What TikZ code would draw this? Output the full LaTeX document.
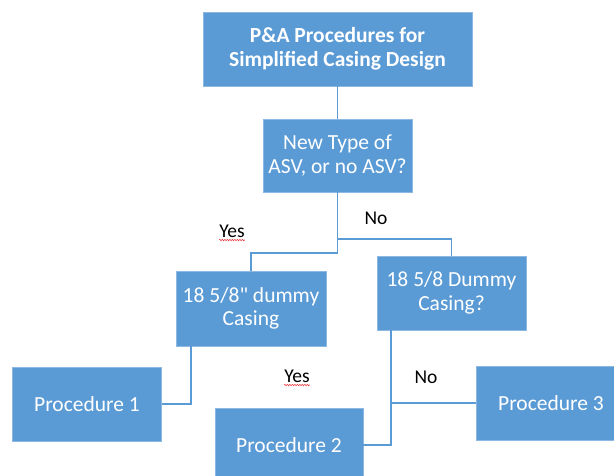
\documentclass[tikz,border=0pt]{standalone}
\usepackage{fontspec}
\setmainfont{Carlito}
\usetikzlibrary{calc,decorations.pathmorphing}
\definecolor{boxblue}{HTML}{5B9BD5}
\definecolor{edgeblue}{HTML}{8DB8E2}
\definecolor{lineblue}{HTML}{5B9BD5}
\definecolor{squig}{HTML}{E8353A}
\tikzset{
  box/.style={fill=boxblue, draw=edgeblue, line width=0.8pt, text=white, align=center,
    inner sep=0pt, font=\fontsize{21.5}{23.5}\selectfont},
  conn/.style={draw=lineblue, line width=1.4pt},
  lbl/.style={text=black, font=\fontsize{19.5}{22}\selectfont, inner sep=0pt},
  squiggle/.style={draw=squig, line width=0.6pt, decorate,
    decoration={snake, segment length=2.5pt, amplitude=0.7pt}}
}
\begin{document}
\begin{tikzpicture}[x=1pt,y=-1pt]
\useasboundingbox (0,0) rectangle (614,476);
\clip (0,0) rectangle (614,476);
\node[box, minimum width=269, minimum height=74, font=\bfseries\fontsize{21.5}{23.5}\selectfont] (top) at (337.5,49) {P\&A Procedures for\\Simplified Casing Design};
\node[box, minimum width=149, minimum height=73] (q) at (337.5,155.5) {New Type of\\ASV, or no ASV?};
\node[box, minimum width=150, minimum height=75] (left) at (251,308.5) {18 5/8\textquotedbl{} dummy\\Casing};
\node[box, minimum width=149, minimum height=74] (right) at (451.5,293) {18 5/8 Dummy\\Casing?};
\node[box, minimum width=149, minimum height=74] (p1) at (87,404) {Procedure 1};
\node[box, minimum width=148, minimum height=74] (p2) at (289,445) {Procedure 2};
\node[box, minimum width=149, minimum height=74] (p3) at (551,403) {Procedure 3};
\coordinate (j1) at (337.5,239);
\coordinate (j2) at (337.5,253);
\coordinate (l1) at (191,346);
\coordinate (r1) at (391,330);
\draw[conn] (top.south) -- (q.north);
\draw[conn] (q.south) -- (j2) -| (left.north);
\draw[conn] (j1) -| (right.north);
\draw[conn] (l1) |- (p1.east);
\draw[conn] (r1) |- (p2.east);
\draw[conn] (p3.west) -- (p3.west -| r1);
\node[lbl] (yes1) at (232,231) {Yes};
\node[lbl] (no1) at (376,218) {No};
\node[lbl] (yes2) at (297,376) {Yes};
\node[lbl] (no2) at (426,377) {No};
\draw[squiggle] ($(yes1.south west)+(0,2.5)$) -- ($(yes1.south east)+(0,2.5)$);
\draw[squiggle] ($(yes2.south west)+(0,2.5)$) -- ($(yes2.south east)+(0,2.5)$);
\end{tikzpicture}
\end{document}
